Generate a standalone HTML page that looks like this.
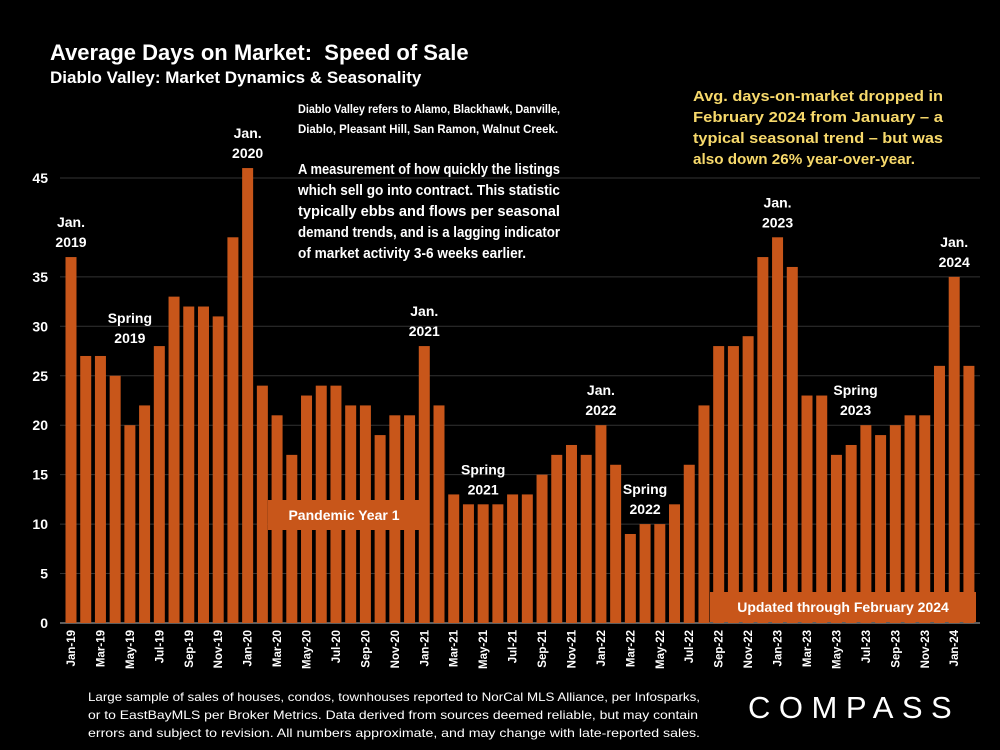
<!DOCTYPE html>
<html><head><meta charset="utf-8">
<style>
body{margin:0;background:#000;}
#wrap{position:relative;width:1000px;height:750px;background:#000;overflow:hidden;font-family:"Liberation Sans",Arial,sans-serif;color:#fff;}
.t{position:absolute;}
</style></head>
<body>
<div id="wrap">
<div class="t" style="left:50px;top:40px;font-size:22px;font-weight:bold;">Average Days on Market:&nbsp; Speed of Sale</div>
<div class="t" style="left:50px;top:68px;font-size:17px;font-weight:bold;">Diablo Valley: Market Dynamics &amp; Seasonality</div>
<div class="t" style="left:748px;top:690px;font-size:31px;letter-spacing:8.5px;">COMPASS</div>
<svg id="chart" width="1000" height="750" style="position:absolute;left:0;top:0"></svg>
</div>
<script>
const categories=["Jan-19","Feb-19","Mar-19","Apr-19","May-19","Jun-19","Jul-19","Aug-19","Sep-19","Oct-19","Nov-19","Dec-19","Jan-20","Feb-20","Mar-20","Apr-20","May-20","Jun-20","Jul-20","Aug-20","Sep-20","Oct-20","Nov-20","Dec-20","Jan-21","Feb-21","Mar-21","Apr-21","May-21","Jun-21","Jul-21","Aug-21","Sep-21","Oct-21","Nov-21","Dec-21","Jan-22","Feb-22","Mar-22","Apr-22","May-22","Jun-22","Jul-22","Aug-22","Sep-22","Oct-22","Nov-22","Dec-22","Jan-23","Feb-23","Mar-23","Apr-23","May-23","Jun-23","Jul-23","Aug-23","Sep-23","Oct-23","Nov-23","Dec-23","Jan-24","Feb-24"];
const daysOnMarket=[37,27,27,25,20,22,28,33,32,32,31,39,46,24,21,17,23,24,24,22,22,19,21,21,28,22,13,12,12,12,13,13,15,17,18,17,20,16,9,10,10,12,16,22,28,28,29,37,39,36,23,23,17,18,20,19,20,21,21,26,35,26];
const yTicks=[0,5,10,15,20,25,30,35,45];
const annotations=[{i:0,lines:["Jan.","2019"]},{i:4,lines:["Spring","2019"],lift:72},{i:12,lines:["Jan.","2020"]},{i:24,lines:["Jan.","2021"]},{i:28,lines:["Spring","2021"]},{i:36,lines:["Jan.","2022"]},{i:39,lines:["Spring","2022"]},{i:48,lines:["Jan.","2023"]},{i:53.3,lines:["Spring","2023"],lift:20},{i:60,lines:["Jan.","2024"]}];
const NS="http://www.w3.org/2000/svg";
const svg=document.getElementById('chart');
const y0=623,yPer=9.89,x0=71,step=14.72,bw=11;
const ys=v=>y0-v*yPer, xs=i=>x0+i*step;
function el(t,a,txt){const e=document.createElementNS(NS,t);for(const k in a)e.setAttribute(k,a[k]);if(txt!==undefined)e.textContent=txt;svg.appendChild(e);return e;}
yTicks.forEach(v=>{
 const g=el('line',{x1:60,x2:980,y1:ys(v),y2:ys(v),stroke:v===0?'#bbb':'#333','stroke-width':1});
 
 
 const t=el('text',{x:48,y:ys(v)+5,'text-anchor':'end',fill:'#fff','font-size':14,'font-weight':'bold','font-family':'Liberation Sans'},String(v));
 
 
});
daysOnMarket.forEach((v,i)=>{
 const r=el('rect',{x:xs(i)-bw/2,y:ys(v),width:bw,height:v*yPer,fill:'#c8561a'});
 
 
 if(i%2===0){
  const t=el('text',{transform:`translate(${xs(i)+4},630) rotate(-90)`,'text-anchor':'end',fill:'#fff','font-size':11.5,'font-weight':'bold','font-family':'Liberation Sans'},categories[i]);
  
  
 }
});
annotations.forEach(a=>{
 const v=daysOnMarket[Math.round(a.i)];
 const lift=a.lift||0;
 a.lines.forEach((l,k)=>{
  const t=el('text',{x:xs(a.i),y:ys(v)-30-lift+k*20,'text-anchor':'middle',fill:'#fff','font-size':14,'font-weight':'bold','font-family':'Liberation Sans'},l);
  
  
 });
});
function box(x,y,w,h,txt,name){
 const r=el('rect',{x:x,y:y,width:w,height:h,fill:'#c8561a'});
 
 
 const t=el('text',{x:x+w/2,y:y+h/2+5,'text-anchor':'middle',fill:'#fff','font-size':14,'font-weight':'bold','font-family':'Liberation Sans'},txt);
 
 
}
box(268,500,152,30,'Pandemic Year 1','pandemic-box');
box(710,592,266,30,'Updated through February 2024','updated-box');
function para(lines,x,y0,lh,size,weight,color,name){
 lines.forEach((ln,k)=>{
  const t=el('text',{x:x,y:y0+k*lh,fill:color,'font-size':size,'font-weight':weight,'font-family':'Liberation Sans',textLength:ln[1],lengthAdjust:'spacingAndGlyphs'},ln[0]);
  
  
 });
}
para([["Diablo Valley refers to Alamo, Blackhawk, Danville,",262],["Diablo, Pleasant Hill, San Ramon, Walnut Creek.",260]],298,113,20,11.5,'bold','#fff','region-note');
para([["A measurement of how quickly the listings",262],["which sell go into contract. This statistic",262],["typically ebbs and flows per seasonal",262],["demand trends, and is a lagging indicator",262],["of market activity 3-6 weeks earlier.",228]],298,174,21,14.5,'bold','#fff','description-text');
para([["Avg. days-on-market dropped in",250],["February 2024 from January – a",250],["typical seasonal trend – but was",250],["also down 26% year-over-year.",222]],693,101,21,14.5,'bold','#f7d96b','highlight-callout');
para([["Large sample of sales of houses, condos, townhouses reported to NorCal MLS Alliance, per Infosparks,",612],["or to EastBayMLS per Broker Metrics. Data derived from sources deemed reliable, but may contain",610],["errors and subject to revision. All numbers approximate, and may change with late-reported sales.",612]],88,701,18,12,'normal','#fff','footer-note');
</script>
</body></html>
